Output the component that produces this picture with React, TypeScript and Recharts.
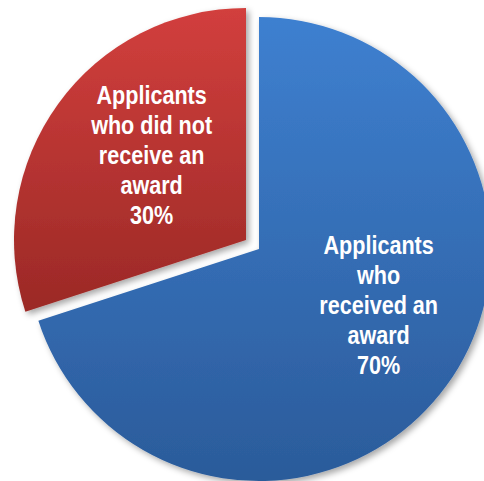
import React from 'react';
import { Cell, Pie, PieChart } from 'recharts';

// award outcome split, clockwise from 12 o'clock
const outcomes = ['Applicants who received an award', 'Applicants who did not receive an award'];
const shares = [70, 30];
const labelLines = [
  ['Applicants', 'who', 'received an', 'award'],
  ['Applicants', 'who did not', 'receive an', 'award'],
];

const data = outcomes.map((name, i) => ({ name, value: shares[i] }));

const fills = ['url(#blueFill)', 'url(#redFill)'];
// label radius and angle nudge relative to the slice mid-angle
const labelPlace = [
  { r: 132, turn: 11 },
  { r: 127, turn: -6 },
];

const RAD = Math.PI / 180;
const LINE_H = 30;
// no narrow face installed, so squeeze the bold sans instead
const NARROW = 0.83;

function SliceLabel(props: any, only: number) {
  const { cx, cy, midAngle, index } = props;
  if (index !== only) return null;
  const { r, turn } = labelPlace[index];
  const a = (midAngle + turn) * RAD;
  const x = cx + r * Math.cos(a);
  const y = cy - r * Math.sin(a);
  const lines = [...labelLines[index], `${shares[index]}%`];
  const top = y - ((lines.length - 1) * LINE_H) / 2;
  return (
    <text
      transform={`translate(${x} 0) scale(${NARROW} 1)`}
      x={0}
      y={top}
      textAnchor="middle"
      fill="#ffffff"
      fontFamily="'Liberation Sans', Arial, sans-serif"
      fontWeight="bold"
      fontSize={26}
    >
      {lines.map((l, i) => (
        <tspan key={i} x={0} y={top + i * LINE_H} dominantBaseline="central">
          {l}
        </tspan>
      ))}
    </text>
  );
}

export default function App() {
  return (
    <div style={{ position: 'absolute', left: 0, top: 0, width: 484, height: 481, background: '#fff' }}>
      <PieChart width={484} height={481} margin={{ top: 0, right: 0, bottom: 0, left: 0 }}>
        <defs>
          <linearGradient id="blueFill" x1="0" y1="0" x2="0" y2="1">
            <stop offset="0%" stopColor="#3e80d0" />
            <stop offset="100%" stopColor="#2b5b9a" />
          </linearGradient>
          <linearGradient id="redFill" x1="0" y1="0" x2="0" y2="1">
            <stop offset="0%" stopColor="#d23f3d" />
            <stop offset="100%" stopColor="#9b2926" />
          </linearGradient>
          <filter id="sliceShadow" x="-10%" y="-10%" width="125%" height="125%">
            <feDropShadow dx="3" dy="3" stdDeviation="3" floodColor="#000" floodOpacity="0.35" />
          </filter>
        </defs>
        {/* main body: the 70% slice */}
        <Pie
          data={data}
          dataKey="value"
          nameKey="name"
          cx={259}
          cy={249}
          outerRadius={232}
          startAngle={90}
          endAngle={-270}
          stroke="none"
          labelLine={false}
          label={(p: any) => SliceLabel(p, 0)}
          isAnimationActive={false}
        >
          {data.map((d, i) => (
            <Cell key={d.name} fill={i === 0 ? fills[0] : 'none'} filter={i === 0 ? 'url(#sliceShadow)' : undefined} />
          ))}
        </Pie>
        {/* exploded 30% slice, pulled toward upper left */}
        <Pie
          data={data}
          dataKey="value"
          nameKey="name"
          cx={246}
          cy={240}
          outerRadius={232}
          startAngle={90}
          endAngle={-270}
          stroke="none"
          labelLine={false}
          label={(p: any) => SliceLabel(p, 1)}
          isAnimationActive={false}
        >
          {data.map((d, i) => (
            <Cell key={d.name} fill={i === 1 ? fills[1] : 'none'} filter={i === 1 ? 'url(#sliceShadow)' : undefined} />
          ))}
        </Pie>
      </PieChart>
    </div>
  );
}
